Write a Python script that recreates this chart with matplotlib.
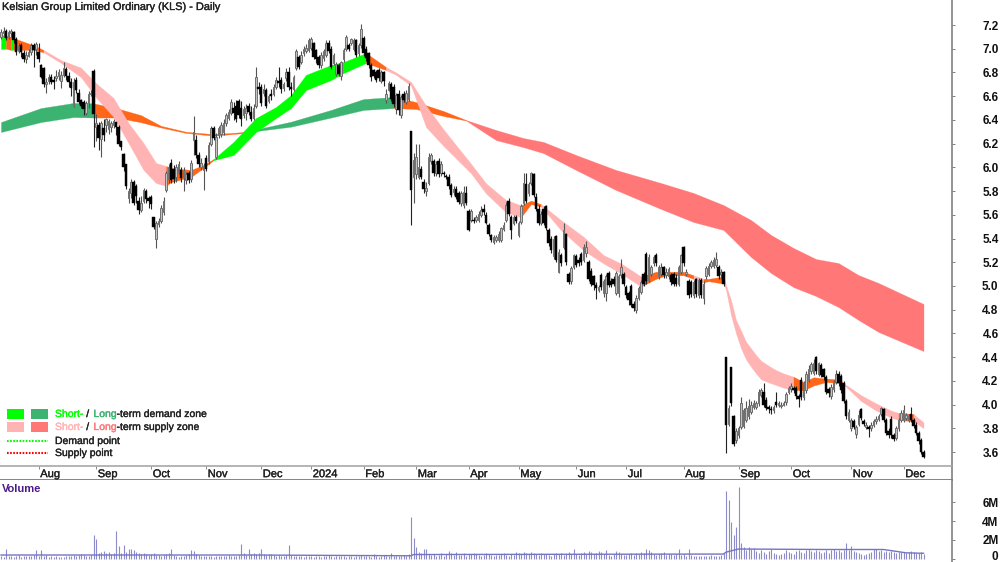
import numpy as np
import matplotlib
matplotlib.use('Agg')
import matplotlib.pyplot as plt
import matplotlib.patheffects as pe
from matplotlib.patches import Rectangle
from matplotlib.lines import Line2D
from matplotlib.transforms import ScaledTranslation

plt.rcParams['font.family'] = ['Liberation Sans', 'DejaVu Sans']

# daily prices, one entry per trading day
opens = [
    7.10, 7.13, 7.15, 7.10, 7.13, 7.14, 7.08, 6.98, 7.03, 6.96,
    6.91, 6.94, 6.97, 7.03, 7.00, 6.97, 6.86, 6.84, 6.70, 6.73,
    6.76, 6.74, 6.75, 6.77, 6.73, 6.78, 6.83, 6.77, 6.72, 6.52,
    6.74, 6.63, 6.57, 6.55, 6.46, 6.54, 6.62, 6.81, 6.34, 6.36,
    6.24, 6.33, 6.36, 6.32, 6.34, 6.36, 6.38, 6.34, 6.22, 6.11,
    6.03, 5.74, 5.78, 5.88, 5.84, 5.72, 5.64, 5.72, 5.80, 5.74,
    5.75, 5.58, 5.40, 5.52, 5.55, 5.62, 5.81, 5.90, 6.04, 5.99,
    5.92, 5.96, 5.98, 5.92, 5.89, 5.95, 5.90, 6.23, 6.23, 6.10,
    6.00, 5.98, 6.08, 6.05, 6.20, 6.33, 6.09, 6.27, 6.28, 6.30,
    6.37, 6.42, 6.46, 6.50, 6.52, 6.56, 6.50, 6.44, 6.46, 6.52,
    6.47, 6.42, 6.52, 6.68, 6.68, 6.63, 6.65, 6.56, 6.62, 6.62,
    6.68, 6.73, 6.74, 6.67, 6.75, 6.80, 6.68, 6.66, 6.84, 6.93,
    6.89, 6.96, 6.98, 6.99, 7.01, 7.05, 6.99, 6.93, 6.86, 6.92,
    6.95, 7.05, 7.00, 6.88, 6.79, 6.86, 6.77, 6.91, 7.00, 7.03,
    7.05, 7.00, 7.07, 6.96, 7.03, 7.09, 7.00, 6.96, 6.86, 6.82,
    6.80, 6.82, 6.73, 6.80, 6.57, 6.65, 6.70, 6.68, 6.49, 6.62,
    6.44, 6.62, 6.55, 6.58, 6.31, 5.92, 5.94, 5.92, 5.99, 5.88,
    5.80, 5.87, 6.05, 6.05, 5.95, 6.05, 5.95, 5.95, 5.93, 5.92,
    5.85, 5.79, 5.82, 5.78, 5.70, 5.68, 5.78, 5.63, 5.56, 5.56,
    5.56, 5.56, 5.60, 5.65, 5.60, 5.51, 5.43, 5.37, 5.39, 5.39,
    5.39, 5.48, 5.56, 5.72, 5.58, 5.53, 5.58, 5.43, 5.54, 5.70,
    5.86, 5.78, 5.87, 5.94, 5.75, 5.65, 5.53, 5.65, 5.67, 5.47,
    5.40, 5.25, 5.42, 5.12, 5.26, 5.33, 5.44, 5.10, 5.04, 5.16,
    5.25, 5.22, 5.27, 5.22, 5.28, 5.20, 5.13, 5.08, 5.01, 4.97,
    5.09, 4.94, 4.94, 5.11, 5.04, 5.06, 4.94, 4.94, 5.09, 5.10,
    4.99, 4.94, 5.00, 4.85, 4.80, 4.90, 4.95, 5.10, 5.27, 5.05,
    5.10, 5.19, 5.26, 5.08, 5.10, 5.16, 5.09, 5.08, 5.09, 5.10,
    5.07, 5.02, 5.12, 5.33, 5.10, 5.04, 5.03, 4.92, 5.06, 4.92,
    5.05, 4.90, 5.08, 5.10, 5.17, 5.17, 5.18, 5.16, 5.10, 5.12,
    4.40, 3.84, 4.32, 3.90, 3.70, 3.74, 3.81, 3.82, 3.87, 3.90,
    3.94, 3.98, 3.98, 4.01, 4.08, 4.11, 4.04, 3.98, 3.96, 3.95,
    4.02, 4.00, 3.99, 4.00, 4.02, 4.11, 4.13, 4.14, 4.14, 4.07,
    4.21, 4.06, 4.12, 4.21, 4.28, 4.27, 4.40, 4.26, 4.33, 4.30,
    4.23, 4.13, 4.07, 4.13, 4.19, 4.26, 4.24, 4.18, 4.03, 3.87,
    3.80, 3.86, 3.75, 3.84, 3.96, 3.86, 3.81, 3.81, 3.80, 3.83,
    3.86, 3.88, 3.92, 3.96, 3.87, 3.78, 3.88, 3.74, 3.72, 3.80,
    3.87, 3.87, 3.89, 3.87, 3.92, 3.87, 3.83, 3.76, 3.70, 3.60,
]
closes = [
    7.14, 7.15, 7.09, 7.14, 7.15, 7.07, 6.97, 7.02, 6.97, 6.91,
    6.95, 6.97, 7.03, 6.99, 7.04, 6.91, 6.76, 6.70, 6.72, 6.76,
    6.72, 6.72, 6.77, 6.80, 6.78, 6.84, 6.77, 6.72, 6.67, 6.72,
    6.65, 6.55, 6.52, 6.49, 6.54, 6.62, 6.63, 6.45, 6.37, 6.25,
    6.37, 6.27, 6.41, 6.39, 6.37, 6.39, 6.34, 6.20, 6.17, 6.00,
    5.84, 5.80, 5.88, 5.70, 5.76, 5.64, 5.70, 5.81, 5.73, 5.72,
    5.69, 5.50, 5.53, 5.55, 5.66, 5.72, 5.95, 6.00, 5.89, 5.90,
    6.00, 6.03, 5.91, 5.97, 5.94, 5.89, 6.04, 6.30, 6.10, 6.03,
    6.04, 6.00, 5.99, 6.19, 6.33, 6.25, 6.26, 6.33, 6.36, 6.37,
    6.44, 6.47, 6.55, 6.46, 6.41, 6.44, 6.41, 6.49, 6.50, 6.47,
    6.41, 6.50, 6.76, 6.66, 6.54, 6.66, 6.52, 6.60, 6.60, 6.68,
    6.74, 6.71, 6.66, 6.70, 6.80, 6.68, 6.66, 6.76, 6.98, 6.85,
    6.95, 7.00, 7.01, 7.07, 7.08, 6.93, 6.91, 6.86, 6.95, 6.98,
    7.05, 6.98, 6.85, 6.95, 6.87, 6.79, 6.89, 6.99, 7.10, 7.00,
    7.08, 7.07, 6.95, 7.03, 7.17, 6.96, 6.92, 6.86, 6.76, 6.77,
    6.74, 6.75, 6.80, 6.73, 6.62, 6.71, 6.58, 6.53, 6.61, 6.48,
    6.59, 6.57, 6.63, 6.69, 5.81, 6.06, 6.09, 6.00, 5.92, 5.82,
    5.83, 6.09, 6.10, 5.95, 6.03, 5.94, 6.03, 5.94, 5.92, 5.84,
    5.77, 5.82, 5.75, 5.71, 5.78, 5.79, 5.70, 5.47, 5.63, 5.55,
    5.58, 5.61, 5.64, 5.62, 5.53, 5.44, 5.39, 5.41, 5.41, 5.44,
    5.49, 5.51, 5.68, 5.61, 5.47, 5.58, 5.55, 5.53, 5.67, 5.87,
    5.72, 5.86, 5.95, 5.77, 5.65, 5.53, 5.61, 5.53, 5.49, 5.36,
    5.30, 5.40, 5.22, 5.29, 5.19, 5.47, 5.20, 5.03, 5.15, 5.26,
    5.18, 5.19, 5.20, 5.33, 5.33, 5.06, 5.02, 5.01, 4.98, 4.99,
    4.99, 5.04, 5.08, 5.01, 5.01, 5.02, 5.11, 5.08, 5.16, 5.02,
    4.92, 4.88, 4.84, 4.81, 4.90, 4.98, 5.03, 5.02, 5.04, 5.24,
    5.16, 5.24, 5.19, 5.16, 5.16, 5.09, 5.12, 5.14, 5.03, 5.02,
    5.02, 5.16, 5.26, 5.19, 5.12, 4.92, 4.93, 5.03, 4.93, 5.05,
    4.92, 5.02, 5.15, 5.17, 5.20, 5.22, 5.23, 5.08, 5.12, 5.02,
    3.83, 3.97, 4.01, 3.67, 3.78, 3.80, 4.01, 3.95, 3.97, 3.99,
    4.00, 4.01, 4.01, 4.11, 4.12, 4.00, 3.97, 3.96, 3.95, 3.98,
    4.00, 4.01, 4.00, 4.01, 4.09, 4.14, 4.16, 4.12, 4.07, 4.05,
    4.06, 4.18, 4.26, 4.30, 4.34, 4.35, 4.28, 4.35, 4.25, 4.23,
    4.11, 4.10, 4.15, 4.19, 4.26, 4.18, 4.12, 4.03, 3.90, 3.94,
    3.87, 3.81, 3.81, 3.91, 3.89, 3.84, 3.83, 3.79, 3.83, 3.86,
    3.88, 3.90, 3.97, 3.87, 3.76, 3.74, 3.74, 3.71, 3.80, 3.87,
    3.93, 3.95, 3.91, 3.90, 3.87, 3.82, 3.76, 3.69, 3.60, 3.56,
]
highs = [
    7.17, 7.18, 7.17, 7.16, 7.17, 7.15, 7.10, 7.05, 7.05, 6.99,
    6.98, 7.00, 7.05, 7.05, 7.06, 7.05, 6.87, 6.85, 6.75, 6.79,
    6.79, 6.77, 6.82, 6.83, 6.81, 6.89, 6.85, 6.80, 6.75, 6.75,
    6.76, 6.66, 6.58, 6.57, 6.56, 6.64, 6.65, 6.83, 6.45, 6.38,
    6.39, 6.41, 6.42, 6.41, 6.39, 6.41, 6.38, 6.36, 6.22, 6.12,
    6.03, 5.83, 5.90, 5.89, 5.86, 5.75, 5.76, 5.83, 5.82, 5.76,
    5.77, 5.58, 5.55, 5.57, 5.68, 5.75, 5.97, 6.03, 6.07, 6.02,
    6.03, 6.05, 6.00, 6.00, 5.96, 5.97, 6.06, 6.43, 6.27, 6.13,
    6.08, 6.04, 6.10, 6.21, 6.35, 6.35, 6.29, 6.35, 6.38, 6.41,
    6.46, 6.49, 6.58, 6.55, 6.57, 6.58, 6.56, 6.52, 6.53, 6.54,
    6.52, 6.53, 6.85, 6.72, 6.70, 6.70, 6.67, 6.62, 6.66, 6.70,
    6.76, 6.85, 6.76, 6.72, 6.84, 6.85, 6.72, 6.78, 7.00, 6.95,
    6.98, 7.02, 7.04, 7.09, 7.10, 7.06, 7.00, 6.95, 6.97, 7.00,
    7.07, 7.07, 7.02, 6.96, 6.89, 6.88, 6.90, 7.01, 7.12, 7.05,
    7.09, 7.09, 7.08, 7.05, 7.21, 7.11, 7.02, 6.97, 6.88, 6.83,
    6.82, 6.84, 6.82, 6.81, 6.66, 6.73, 6.72, 6.70, 6.63, 6.65,
    6.61, 6.64, 6.65, 6.71, 6.31, 6.12, 6.20, 6.20, 6.01, 5.90,
    5.88, 6.12, 6.12, 6.07, 6.05, 6.08, 6.05, 5.97, 5.94, 5.94,
    5.87, 5.84, 5.84, 5.80, 5.80, 5.84, 5.84, 5.65, 5.65, 5.58,
    5.60, 5.63, 5.67, 5.69, 5.62, 5.53, 5.44, 5.43, 5.43, 5.46,
    5.50, 5.54, 5.71, 5.74, 5.60, 5.60, 5.60, 5.55, 5.69, 5.95,
    5.95, 5.88, 5.96, 5.95, 5.78, 5.68, 5.63, 5.67, 5.68, 5.49,
    5.42, 5.42, 5.43, 5.31, 5.28, 5.53, 5.45, 5.12, 5.17, 5.27,
    5.27, 5.24, 5.29, 5.35, 5.38, 5.22, 5.15, 5.09, 5.03, 5.01,
    5.11, 5.06, 5.10, 5.13, 5.07, 5.08, 5.13, 5.10, 5.23, 5.12,
    5.01, 4.96, 5.02, 4.87, 4.92, 5.00, 5.05, 5.12, 5.29, 5.27,
    5.18, 5.26, 5.28, 5.18, 5.19, 5.17, 5.15, 5.16, 5.11, 5.12,
    5.10, 5.18, 5.27, 5.34, 5.14, 5.06, 5.05, 5.05, 5.07, 5.07,
    5.07, 5.04, 5.17, 5.19, 5.22, 5.24, 5.29, 5.18, 5.14, 5.13,
    4.40, 4.00, 4.32, 3.91, 3.80, 3.82, 4.06, 3.97, 4.03, 4.05,
    4.03, 4.04, 4.03, 4.13, 4.14, 4.18, 4.06, 4.00, 3.99, 4.00,
    4.11, 4.03, 4.02, 4.03, 4.11, 4.16, 4.18, 4.16, 4.16, 4.09,
    4.23, 4.20, 4.28, 4.33, 4.36, 4.38, 4.41, 4.36, 4.35, 4.31,
    4.25, 4.15, 4.17, 4.21, 4.29, 4.28, 4.26, 4.20, 4.05, 3.96,
    3.89, 3.88, 3.83, 3.95, 3.97, 3.88, 3.85, 3.83, 3.85, 3.88,
    3.90, 3.92, 3.98, 3.97, 3.89, 3.80, 3.90, 3.76, 3.82, 3.89,
    3.95, 4.00, 3.93, 3.92, 3.98, 3.89, 3.85, 3.78, 3.72, 3.62,
]
lows = [
    7.08, 7.10, 7.07, 7.08, 7.10, 7.05, 6.95, 6.96, 6.93, 6.89,
    6.88, 6.93, 6.95, 6.85, 6.95, 6.89, 6.75, 6.68, 6.63, 6.70,
    6.70, 6.66, 6.73, 6.74, 6.67, 6.76, 6.74, 6.68, 6.60, 6.51,
    6.63, 6.53, 6.50, 6.44, 6.44, 6.50, 6.60, 6.17, 6.22, 6.15,
    6.09, 6.22, 6.30, 6.28, 6.30, 6.33, 6.27, 6.18, 6.15, 5.97,
    5.82, 5.70, 5.74, 5.68, 5.70, 5.61, 5.62, 5.70, 5.70, 5.66,
    5.65, 5.48, 5.32, 5.50, 5.53, 5.60, 5.79, 5.87, 5.87, 5.87,
    5.88, 5.94, 5.88, 5.80, 5.86, 5.87, 5.88, 6.10, 6.08, 6.00,
    5.98, 5.81, 5.97, 6.03, 6.18, 6.23, 6.07, 6.25, 6.26, 6.27,
    6.35, 6.40, 6.44, 6.40, 6.38, 6.42, 6.35, 6.42, 6.40, 6.44,
    6.39, 6.40, 6.50, 6.62, 6.52, 6.60, 6.50, 6.54, 6.57, 6.60,
    6.66, 6.68, 6.63, 6.64, 6.73, 6.65, 6.60, 6.64, 6.82, 6.83,
    6.87, 6.94, 6.96, 6.97, 6.99, 6.91, 6.88, 6.84, 6.84, 6.90,
    6.93, 6.96, 6.83, 6.86, 6.77, 6.77, 6.74, 6.89, 6.98, 6.98,
    7.03, 6.98, 6.93, 6.94, 7.01, 6.94, 6.90, 6.84, 6.73, 6.75,
    6.72, 6.73, 6.71, 6.69, 6.54, 6.64, 6.56, 6.51, 6.45, 6.44,
    6.42, 6.55, 6.53, 6.56, 5.51, 5.70, 5.90, 5.90, 5.90, 5.78,
    5.76, 5.85, 6.03, 5.93, 5.93, 5.92, 5.93, 5.92, 5.90, 5.82,
    5.75, 5.77, 5.73, 5.69, 5.67, 5.66, 5.68, 5.46, 5.54, 5.53,
    5.54, 5.54, 5.58, 5.60, 5.52, 5.42, 5.37, 5.35, 5.37, 5.37,
    5.37, 5.46, 5.54, 5.59, 5.40, 5.51, 5.53, 5.41, 5.52, 5.68,
    5.70, 5.76, 5.85, 5.75, 5.63, 5.51, 5.51, 5.51, 5.47, 5.34,
    5.28, 5.23, 5.20, 5.11, 5.17, 5.31, 5.18, 5.02, 5.02, 5.14,
    5.16, 5.17, 5.18, 5.20, 5.24, 5.04, 5.00, 4.97, 4.89, 4.95,
    4.97, 4.91, 4.87, 4.99, 4.99, 5.00, 4.92, 4.91, 5.07, 5.00,
    4.90, 4.84, 4.82, 4.79, 4.77, 4.88, 4.93, 5.00, 5.02, 5.03,
    5.08, 5.17, 5.17, 5.06, 5.08, 5.07, 5.07, 5.06, 5.01, 5.00,
    5.00, 5.00, 5.10, 5.17, 5.08, 4.90, 4.91, 4.90, 4.91, 4.90,
    4.90, 4.85, 5.06, 5.08, 5.15, 5.15, 5.16, 5.06, 5.06, 5.00,
    3.59, 3.82, 3.99, 3.65, 3.68, 3.72, 3.79, 3.80, 3.85, 3.88,
    3.92, 3.96, 3.96, 3.99, 4.06, 3.98, 3.95, 3.93, 3.92, 3.93,
    3.98, 3.98, 3.97, 3.99, 4.00, 4.09, 4.11, 4.10, 4.05, 3.98,
    4.04, 4.04, 4.10, 4.19, 4.26, 4.25, 4.26, 4.24, 4.23, 4.21,
    4.09, 4.06, 4.05, 4.11, 4.17, 4.16, 4.10, 4.01, 3.88, 3.85,
    3.78, 3.79, 3.72, 3.82, 3.87, 3.82, 3.79, 3.73, 3.78, 3.81,
    3.84, 3.86, 3.90, 3.85, 3.74, 3.72, 3.72, 3.69, 3.70, 3.78,
    3.85, 3.85, 3.87, 3.85, 3.85, 3.80, 3.74, 3.67, 3.58, 3.55,
]

# volume in millions
volumes = [
    .3, .25, 1.0, .3, .35, .25, .3, .4, .25, .3,
    .35, .3, .3, .4, .95, .35, .95, .3, .45, .25,
    .3, .25, .3, .25, .2, .25, .3, .35, .3, .4,
    .3, .45, .5, .4, .35, .3, .4, 2.5, 2.1, .6,
    .7, .8, .6, .7, .5, .6, 2.9, 1.4, .6, 1.45,
    .7, 1.0, 1.0, .9, .7, .6, .5, .6, .5, .4,
    .5, .6, .4, .4, .3, .4, .5, .6, 1.0, .4,
    .3, .2, .3, .3, .4, .5, .9, .8, .5, .4,
    .3, .3, .3, .35, .3, .25, .3, .3, .35, .3,
    .3, .4, .3, .3, .35, .4, 1.6, .6, .4, 1.0,
    .5, .6, .5, .6, 1.1, .5, .4, .5, .5, .4,
    .35, .4, .3, .35, .4, 1.45, .4, .3, .35, .3,
    .3, .25, .3, .35, .3, .25, .3, .3, .25, .3,
    .3, .4, .3, .25, .3, .35, .3, .3, .25, .3,
    .3, .25, .35, .3, .4, .3, .35, .3, .25, .5,
    .3, .25, .3, .4, .3, .3, .6, .3, .3, .35,
    .3, .4, .3, .5, 4.45, 2.2, 1.25, .7, .6, 1.0,
    1.0, .5, .4, .5, .3, .4, .6, .3, .5, .8,
    .6, .4, .7, .4, .4, .6, .3, .5, .5, .6,
    .5, .4, .3, .4, .6, .5, .4, .3, .4, .4,
    .5, .6, .4, .3, .5, .4, .7, .6, .5, .7,
    .6, .5, .7, .6, .5, .4, .6, .5, .5, .4,
    .3, .5, .6, .5, .6, .4, .5, .7, .5, 1.1,
    .5, .4, .6, .7, .5, .8, .7, .5, .6, .8,
    .7, .5, .9, .4, .3, .5, .8, .7, .5, .4,
    .4, .5, .6, .4, .6, .5, .7, .6, 1.1, .9,
    .7, .5, .4, .5, .6, .7, .4, .5, .5, .4,
    .5, 1.0, .4, .5, .3, 1.0, .4, .3, .35, .3,
    .3, .35, .3, .35, .4, .3, .3, .35, .4, .6,
    7.2, 6.2, 3.9, 2.5, 3.4, 7.6, 1.7, 1.3, .9, 1.3,
    1.0, 1.2, .8, .6, .9, .7, .5, .8, 1.1, .6,
    .5, .4, .5, .6, .9, .7, .6, .5, .8, .9,
    .7, .6, .9, 1.0, .8, .7, .9, .8, .6, .7,
    .9, .6, .9, 1.0, .8, .9, .7, .9, 1.7, .9,
    1.4, .8, .7, .6, .5, .4, .5, .6, .7, 1.0,
    1.0, .8, .9, .7, .8, .7, .8, .7, .6, .7,
    .7, .7, .6, .7, .8, .7, .6, .6, .7, .5,
]
vol_avg_x = [0, 100, 164, 165, 289, 290, 295, 330, 353, 362, 369]
vol_avg = [.42, .42, .34, .47, .52, .72, 1.05, 1.0, 1.0, .65, .6]

# short-term ribbon, u = demand, d = supply, m = in between
short_x = [0, 2, 4, 5, 13, 17, 24, 32, 38, 45, 51, 57, 62, 66, 68, 76, 81, 85, 93, 102, 110, 116, 122,
           132, 137, 146, 154, 158, 164, 170, 177, 188, 194, 202, 208, 212, 216, 224, 233, 241, 248,
           256, 262, 266, 273, 277, 281, 283, 289, 290, 292, 294, 296, 298, 300, 302, 304, 307, 310, 313,
           317, 321, 325, 330, 336, 337, 344, 350, 356, 359, 365, 369]
short_top = [7.116, 7.11, 7.10, 7.09, 7.03, 6.99, 6.905, 6.84, 6.71, 6.585, 6.374, 6.205, 6.037, 6.011, 5.995,
             5.978, 6.02, 6.07, 6.214, 6.416, 6.509, 6.61, 6.78, 6.863, 6.888, 6.964, 6.846, 6.80, 6.72,
             6.52, 6.32, 6.03, 5.865, 5.725, 5.68, 5.72, 5.69, 5.555, 5.415, 5.26, 5.19, 5.08, 5.12,
             5.12, 5.12, 5.09, 5.06, 5.06, 5.08, 5.008, 4.881, 4.713, 4.623, 4.53, 4.474, 4.418, 4.37, 4.328,
             4.291, 4.263, 4.235, 4.19, 4.23, 4.22, 4.21, 4.18, 4.08, 4.01, 3.95, 3.93, 3.92, 3.85]
short_bot = [6.998, 7.0, 6.99, 6.99, 6.99, 6.97, 6.88, 6.76, 6.59, 6.425, 6.205, 5.978, 5.868, 5.843, 5.876,
             5.919, 5.995, 6.06, 6.104, 6.298, 6.416, 6.50, 6.652, 6.736, 6.795, 6.88, 6.82, 6.78, 6.69,
             6.34, 6.18, 5.95, 5.78, 5.62, 5.58, 5.69, 5.67, 5.47, 5.30, 5.19, 5.105, 4.995, 5.06,
             5.09, 5.09, 5.06, 5.03, 5.04, 5.02, 4.966, 4.755, 4.60, 4.474, 4.381, 4.319, 4.263, 4.213, 4.187,
             4.165, 4.142, 4.123, 4.12, 4.16, 4.19, 4.18, 4.17, 4.03, 3.95, 3.89, 3.87, 3.86, 3.80]
short_zone = 'umumm' + 'd' * 8 + 'mmmm' + 'u' * 8 + 'm' + 'd' * 8 + 'mm' + 'd' * 5 + 'mmmm' + 'd' + 'mm' \
    + 'd' * 12 + 'mmmm' + 'd' * 5 + 'm' + 'dd'

# long-term ribbon
long_x = [0, 16, 29, 37, 46, 56, 64, 74, 85, 96, 102, 116, 132, 145, 157, 166, 177, 186, 198, 209, 217,
          230, 246, 264, 277, 289, 300, 308, 317, 326, 335, 343, 351, 369]
long_top = [6.382, 6.50, 6.543, 6.54, 6.50, 6.44, 6.35, 6.30, 6.28, 6.296, 6.32, 6.385, 6.484, 6.576,
            6.593, 6.551, 6.475, 6.399, 6.315, 6.247, 6.214, 6.104, 5.978, 5.868, 5.784, 5.682, 5.556,
            5.43, 5.32, 5.227, 5.193, 5.092, 5.025, 4.848]
long_bot = [6.298, 6.382, 6.424, 6.42, 6.42, 6.38, 6.336, 6.29, 6.267, 6.287, 6.306, 6.343, 6.42, 6.484,
            6.50, 6.492, 6.433, 6.395, 6.23, 6.17, 6.12, 5.978, 5.809, 5.649, 5.539, 5.472, 5.244,
            5.109, 4.99, 4.915, 4.822, 4.713, 4.612, 4.451]
long_zone = 'uuu' + 'm' * 7 + 'uuuu' + 'mmm' + 'd' * 17

price_ticks = [3.6, 3.8, 4.0, 4.2, 4.4, 4.6, 4.8, 5.0, 5.2, 5.4, 5.6, 5.8, 6.0, 6.2, 6.4, 6.6, 6.8, 7.0, 7.2]
vol_ticks = [0, 2, 4, 6]
month_x = [15, 38, 60, 82, 104, 124, 145, 166, 187, 207, 230, 250, 273, 295, 316, 340, 361]
month_labels = ['Aug', 'Sep', 'Oct', 'Nov', 'Dec', '2024', 'Feb', 'Mar', 'Apr', 'May', 'Jun', 'Jul', 'Aug',
                'Sep', 'Oct', 'Nov', 'Dec']

SHORT_COLS = {'u': '#00FF00', 'd': '#FFB3B3', 'm': '#FF661A'}
LONG_COLS = {'u': '#3CB371', 'd': '#FF7777', 'm': '#FF661A'}
HEAVY = [pe.withStroke(linewidth=0.25, foreground='#222222')]


def add_axes_px(fig, left, top, right, bottom):
    return fig.add_axes([left / 1000, 1 - bottom / 562, (right - left) / 1000, (bottom - top) / 562])


def draw_ribbon(ax, xs, top, bot, zones, colours):
    # one polygon per run of the same zone so no seams show inside a run
    start = 0
    for k in range(1, len(xs)):
        if k == len(xs) - 1 or zones[k] != zones[start]:
            col = colours[zones[start]]
            ax.fill_between(xs[start:k + 1], top[start:k + 1], bot[start:k + 1], color=col, lw=0.2, zorder=2)
            start = k


def coloured_text(fig, x, y, parts):
    # lay pieces of one label side by side, measuring each
    renderer = fig.canvas.get_renderer()
    for s, col in parts:
        t = fig.text(x / 1000, 1 - y / 562, s, color=col, fontsize=7.5, va='center', ha='left')
        t.set_path_effects([pe.withStroke(linewidth=0.25, foreground=col)])
        x = t.get_window_extent(renderer).x1 + (1.5 if s.endswith(' ') else 0.2)


fig = plt.figure(figsize=(10, 5.62), dpi=100)

# price panel
ax = add_axes_px(fig, 0, 0, 952, 466)
xs = np.arange(len(closes))
o = np.array(opens)
c = np.array(closes)

draw_ribbon(ax, long_x, long_top, long_bot, long_zone, LONG_COLS)
draw_ribbon(ax, short_x, short_top, short_bot, short_zone, SHORT_COLS)

up = c >= o
ax.vlines(xs[up], np.array(lows)[up], np.array(highs)[up], color='#555555', lw=0.8, zorder=3)
ax.vlines(xs[~up], np.array(lows)[~up], np.array(highs)[~up], color='#222222', lw=0.8, zorder=3)
ax.bar(xs[up], (c - o)[up], bottom=o[up], width=0.72, facecolor='#c4c4c4', edgecolor='#707070', lw=0.7, zorder=4)
ax.bar(xs[~up], (c - o)[~up], bottom=o[~up], width=0.85, facecolor='black', edgecolor='black', lw=0.3, zorder=4)

ax.set_xlim(-0.4, 380.4)
ax.set_ylim(3.482, 7.411)
ax.set_xticks([])
ax.set_yticks(price_ticks)
ax.set_yticklabels([f'{p:.1f}' for p in price_ticks])
ax.yaxis.tick_right()
for name in ['left', 'top', 'bottom']:
    ax.spines[name].set_visible(False)
ax.spines['right'].set_color('#808080')
ax.spines['right'].set_linewidth(1.2)
ax.tick_params(axis='y', length=2.5, width=0.7, color='#808080', pad=31, labelsize=8.5, labelcolor='#111111')
plt.setp(ax.get_yticklabels(), ha='right', fontweight='bold')

# date strip
strip = add_axes_px(fig, 0, 466, 952, 480)
strip.set_xlim(-0.4, 380.4)
strip.set_ylim(0, 1)
strip.set_yticks([])
strip.set_xticks([])
for m, lab in zip(month_x, month_labels):
    strip.vlines(m, 0.78, 1, color='#888888', lw=0.7)
    strip.text(m + 0.7, 0.42, lab, fontsize=8, color='#222222', va='center', ha='left', path_effects=HEAVY)
strip.spines['left'].set_visible(False)
strip.spines['top'].set_color('#a8a8a8')
strip.spines['top'].set_linewidth(1.2)
strip.spines['bottom'].set_color('#707070')
strip.spines['bottom'].set_linewidth(1.2)
strip.spines['right'].set_color('#808080')
strip.spines['right'].set_linewidth(1.2)

# volume panel
vax = add_axes_px(fig, 0, 480, 952, 562)
vax.vlines(xs, 0, volumes, color='#8C8CCC', lw=0.8)
vax.plot(vol_avg_x, vol_avg, color='#7474C4', lw=1.0)
vax.set_xlim(-0.4, 380.4)
vax.set_ylim(-0.316, 8.316)
vax.set_xticks([])
vax.set_yticks(vol_ticks)
vax.set_yticklabels(['0', '2M', '4M', '6M'])
vax.yaxis.tick_right()
for name in ['left', 'top', 'bottom']:
    vax.spines[name].set_visible(False)
vax.spines['right'].set_color('#808080')
vax.spines['right'].set_linewidth(1.2)
vax.tick_params(axis='y', length=2.5, width=0.7, color='#808080', pad=31, labelsize=8.5, labelcolor='#111111')
plt.setp(vax.get_yticklabels(), ha='right', fontweight='bold')
# the 0 label would run off the bottom edge, lift it a little
zero_label = vax.get_yticklabels()[0]
zero_label.set_transform(zero_label.get_transform() + ScaledTranslation(0, 2.5 / 72, fig.dpi_scale_trans))
vax.text(2 / 952, 1 - 9 / 82, 'Volume', transform=vax.transAxes, color='#4B1A8C', fontsize=8, fontweight='bold',
         va='center', ha='left')

# title and legend
fig.text(2 / 1000, 1 - 7 / 562, 'Kelsian Group Limited Ordinary (KLS) - Daily', fontsize=7.9, color='#222222',
         va='center', ha='left', path_effects=HEAVY)

for px, py, col in [(7, 409, '#00FF00'), (31, 409, '#3CB371'), (7, 422, '#FFB3B3'), (31, 422, '#FF7777')]:
    fig.add_artist(Rectangle((px / 1000, 1 - (py + 10) / 562), 17 / 1000, 10 / 562, transform=fig.transFigure,
                             facecolor=col, edgecolor='none'))
for py, col in [(441, '#00FF00'), (453, '#FF0000')]:
    fig.add_artist(Line2D([7 / 1000, 48 / 1000], [1 - py / 562, 1 - py / 562], transform=fig.transFigure, color=col,
                          lw=1.5, linestyle=(0, (0.8, 0.7))))

coloured_text(fig, 55, 414, [('Short-', '#00FF00'), (' / ', '#222222'), ('Long', '#3CB371'),
                             ('-term demand zone', '#222222')])
coloured_text(fig, 55, 427, [('Short-', '#FFB3B3'), (' / ', '#222222'), ('Long', '#FF7777'),
                             ('-term supply zone', '#222222')])
coloured_text(fig, 55, 441, [('Demand point', '#222222')])
coloured_text(fig, 55, 453, [('Supply point', '#222222')])

fig.savefig('out.png', dpi=100)
